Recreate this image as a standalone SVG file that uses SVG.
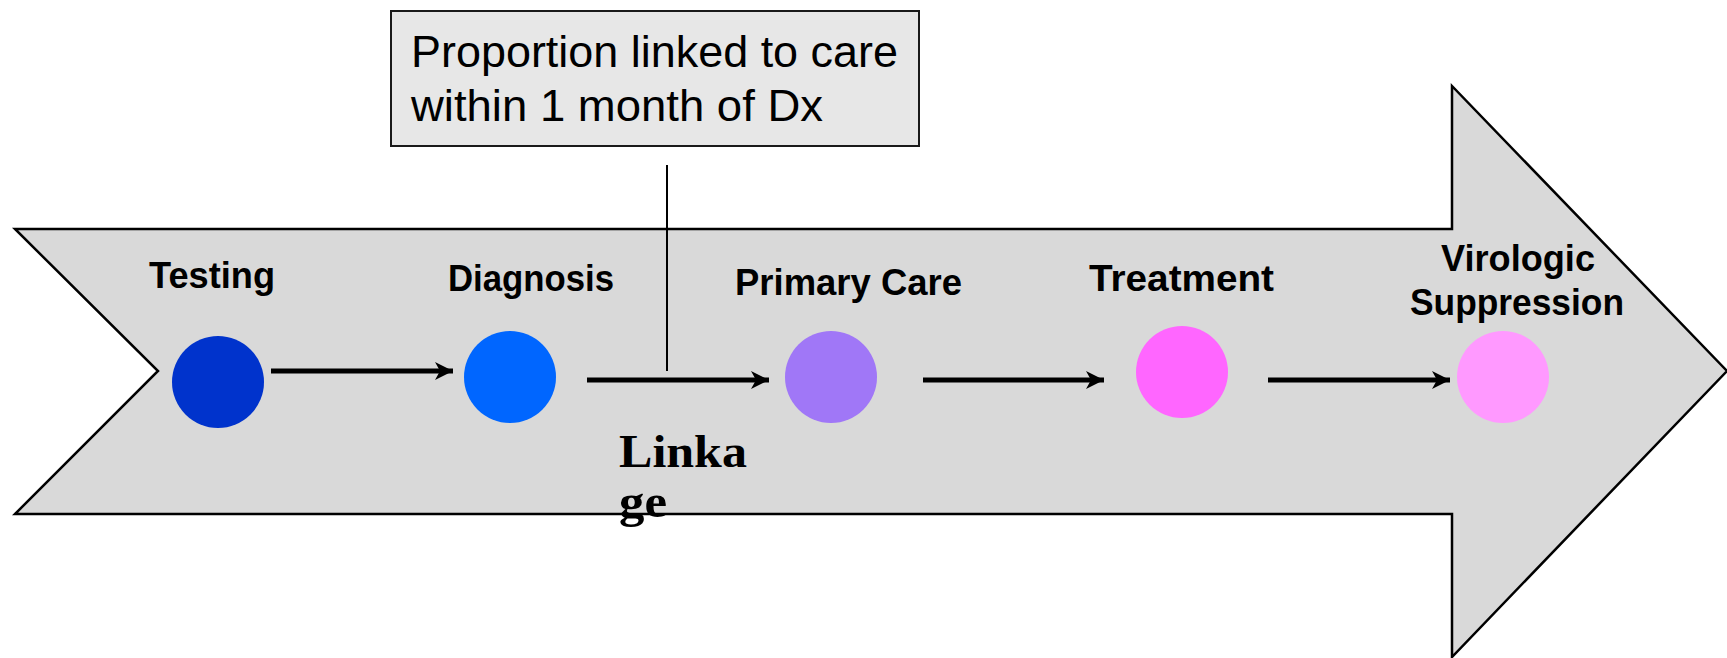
<svg xmlns="http://www.w3.org/2000/svg" width="1727" height="658" viewBox="0 0 1727 658">
<style>
.stage{fill:#D9D9D9;stroke:#000;stroke-width:2.5;stroke-linejoin:miter}
.callout{fill:#E7E7E7;stroke:#1a1a1a;stroke-width:2}
.ct{font-family:"Liberation Sans",Arial,sans-serif;font-size:45px;fill:#000}
.lbl{font-family:"Liberation Sans",Arial,sans-serif;font-size:36px;font-weight:bold;fill:#000}
.link{font-family:"Liberation Serif","Times New Roman",serif;font-size:46px;font-weight:bold;fill:#000}
.conn{stroke:#000;stroke-width:5;fill:none;marker-end:url(#ah)}
.lead{stroke:#000;stroke-width:2;fill:none}
</style>
<defs>
<marker id="ah" markerUnits="userSpaceOnUse" viewBox="0 0 18 18" markerWidth="18" markerHeight="18" refX="18" refY="9" orient="auto">
<path d="M0,0 L18,9 L0,18 L5,9 z" fill="#000"/>
</marker>
</defs>
<g id="stage-arrow">
<polygon class="stage" points="15,229 1452,229 1452,86 1727,371 1452,657 1452,514 15,514 158,371"/>
</g>
<g id="callout">
<rect class="callout" x="391" y="11" width="528" height="135"/>
<text class="ct" x="411" y="67" textLength="487" lengthAdjust="spacingAndGlyphs">Proportion linked to care</text>
<text class="ct" x="411" y="121" textLength="412" lengthAdjust="spacingAndGlyphs">within 1 month of Dx</text>
</g>
<g id="connectors">
<line class="lead" x1="667" y1="165" x2="667" y2="371"/>
<line class="conn" x1="271" y1="371" x2="453" y2="371"/>
<line class="conn" x1="587" y1="380" x2="769" y2="380"/>
<line class="conn" x1="923" y1="380" x2="1104" y2="380"/>
<line class="conn" x1="1268" y1="380" x2="1450" y2="380"/>
</g>
<g id="testing">
<circle cx="218" cy="382" r="46" fill="#0033CC"/>
<text class="lbl" x="149" y="288" textLength="126" lengthAdjust="spacingAndGlyphs">Testing</text>
</g>
<g id="diagnosis">
<circle cx="510" cy="377" r="46" fill="#0066FF"/>
<text class="lbl" x="448" y="291" textLength="166" lengthAdjust="spacingAndGlyphs">Diagnosis</text>
</g>
<g id="primary-care">
<circle cx="831" cy="377" r="46" fill="#A077F7"/>
<text class="lbl" x="735" y="295" textLength="227" lengthAdjust="spacingAndGlyphs">Primary Care</text>
</g>
<g id="treatment">
<circle cx="1182" cy="372" r="46" fill="#FF66FF"/>
<text class="lbl" x="1089" y="291" textLength="185" lengthAdjust="spacingAndGlyphs">Treatment</text>
</g>
<g id="virologic-suppression">
<circle cx="1503" cy="377" r="46" fill="#FF99FF"/>
<text class="lbl" x="1441" y="271" textLength="154" lengthAdjust="spacingAndGlyphs">Virologic</text>
<text class="lbl" x="1410" y="315" textLength="214" lengthAdjust="spacingAndGlyphs">Suppression</text>
</g>
<g id="linkage-label">
<text class="link" x="619" y="467" textLength="128" lengthAdjust="spacingAndGlyphs">Linka</text>
<text class="link" x="619" y="517" textLength="48" lengthAdjust="spacingAndGlyphs">ge</text>
</g>
</svg>
